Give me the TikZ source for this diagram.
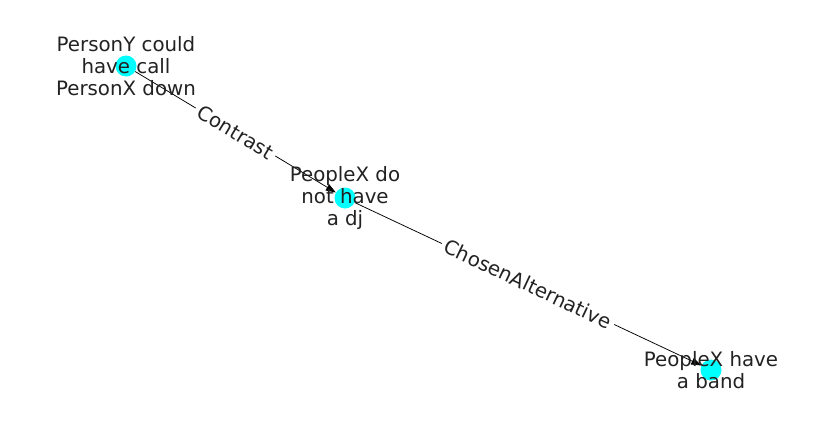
\documentclass[tikz,border=0pt]{standalone}
\usepackage{fontspec}
\setmainfont{DejaVu Sans}
\usetikzlibrary{arrows.meta}

\begin{document}
\begin{tikzpicture}[
    x=1pt, y=-1pt,
    vertex/.style={circle, fill={rgb,255:red,0;green,255;blue,255}, minimum size=21pt, inner sep=0pt},
    txt/.style={align=center, font=\fontsize{19.8}{22}\selectfont, inner sep=0pt, text={rgb,255:red,34;green,34;blue,34}},
    elabel/.style={sloped, fill=white, font=\fontsize{19.8}{22}\selectfont, inner sep=4pt, text={rgb,255:red,34;green,34;blue,34}},
    arrow/.style={-{Triangle[length=10pt, width=7pt]}, line width=0.75pt}
]
    \useasboundingbox (0,0) rectangle (837,434);

    % Vertices
    \node[vertex] (could) at (126,66) {};
    \node[vertex] (nodj) at (345,198) {};
    \node[vertex] (band) at (711,370) {};

    % Edges
    \draw[arrow] (could) -- (nodj) node[midway, elabel] {Contrast};
    \draw[arrow] (nodj) -- (band) node[midway, elabel] {ChosenAlternative};

    % Labels
    \node[txt] (couldtxt) at (could) {PersonY could\\have call\\PersonX down};
    \node[txt] (nodjtxt) at (nodj) {PeopleX do\\not have\\a dj};
    \node[txt] (bandtxt) at (band) {PeopleX have\\a band};

\end{tikzpicture}
\end{document}
